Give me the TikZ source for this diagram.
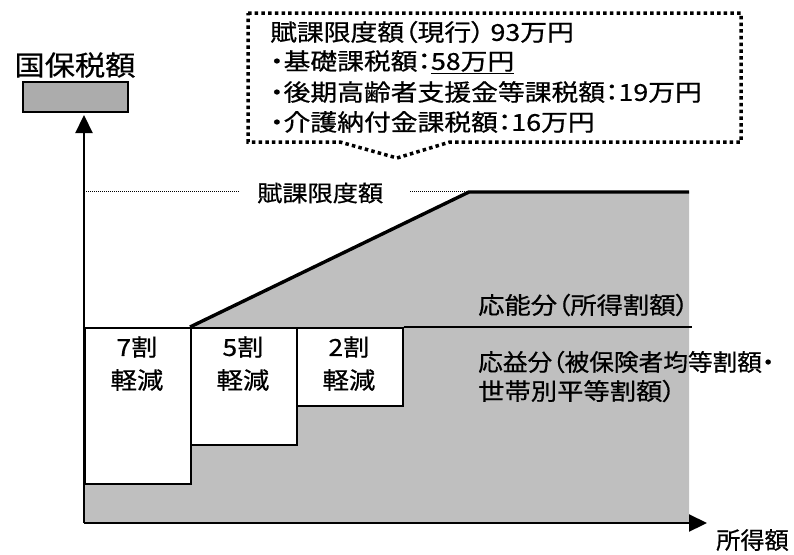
\documentclass[tikz,border=0pt]{standalone}
\usepackage{fontspec}
\setmainfont{Noto Sans CJK JP}[RawFeature=+palt, FakeBold=0.6]
\usepackage{graphicx}
\usetikzlibrary{arrows.meta}
\definecolor{chartgray}{RGB}{191,191,191}
\definecolor{boxgray}{RGB}{172,172,172}
\newcommand{\sxa}[1]{\scalebox{1.12}[1]{#1}}
\newcommand{\sxb}[1]{\scalebox{1.15}[1]{#1}}
\begin{document}
\begin{tikzpicture}[x=1pt,y=-1pt,
  lbl/.style={inner sep=0pt, font=\fontsize{23.5}{27}\selectfont},
  cal/.style={inner sep=0pt, anchor=west, font=\fontsize{23.3}{27}\selectfont},
  redbox/.style={draw=black, line width=1.6pt, fill=white},
  axis/.style={line width=2.2pt, -{Triangle[length=18pt,width=17pt]}},
  thinline/.style={line width=1.6pt},
  dotline/.style={line width=1pt, dash pattern=on 1pt off 1pt},
  calloutdots/.style={line width=3.5pt, dash pattern=on 3.5pt off 3.2pt}]
\useasboundingbox (0,0) rectangle (794,554);
% coordinates
\coordinate (O) at (84,523);
\coordinate (ytop) at (84,115);
\coordinate (xend) at (707,523);
\coordinate (s0) at (190,327);
\coordinate (s1) at (469,192);
\coordinate (s2) at (689,192);
\coordinate (hl) at (692,327);
% gray area
\fill[chartgray] (84,523) -- (84,483) -- (190,483) -- (190,444) -- (296,444) -- (296,405)
  -- (402,405) -- (402,327) -- (190,327) -- (469,192) -- (689,192) -- (689,523) -- cycle;
% reduction boxes
\node[redbox, minimum width=106pt, minimum height=156pt, anchor=north west, inner sep=0pt] (b7) at (84,327) {};
\node[redbox, minimum width=106pt, minimum height=117pt, anchor=north west, inner sep=0pt] (b5) at (190,327) {};
\node[redbox, minimum width=106pt, minimum height=78pt, anchor=north west, inner sep=0pt] (b2) at (296,327) {};
\node[lbl] (t7a) at (137,347) {\sxa{7割}};
\node[lbl] (t7b) at (137,380) {\sxa{軽減}};
\node[lbl] (t5a) at (243,347) {\sxa{5割}};
\node[lbl] (t5b) at (243,380) {\sxa{軽減}};
\node[lbl] (t2a) at (349,347) {\sxa{2割}};
\node[lbl] (t2b) at (349,380) {\sxa{軽減}};
% horizontal line and slope
\draw[thinline] (b2.north east) -- (hl);
\draw[line width=3.4pt] (s0) -- (s1) -- (s2);
% axes
\draw[axis] (O) -- (ytop);
\draw[axis] (O) -- (xend);
% y label
\node[inner sep=0pt, font=\fontsize{27.5}{30}\selectfont] (ylab) at (75,65) {\scalebox{1.1}[1]{国保税額}};
\node[draw=black, line width=1.6pt, fill=boxgray, minimum width=105pt, minimum height=30pt, inner sep=0pt] (gbox) at (75.5,97) {};
% limit label
\node[lbl, anchor=west, font=\fontsize{22.5}{26}\selectfont] (lim) at (257,193) {\sxa{賦課限度額}};
\coordinate (ya) at (86,191);
\draw[dotline] (ya) -- ([xshift=-17pt]lim.west |- ya);
\draw[dotline] ([xshift=27pt]lim.east |- ya) -- (467,191);
% region labels
\node[lbl, anchor=west] (onou) at (478,305) {\sxa{応能分（所得割額）}};
\node[lbl, anchor=west] (oeki1) at (478,362) {\scalebox{1.05}[1]{応益分（被保険者均等割額・}};
\node[lbl, anchor=west] (oeki2) at (478,391) {\sxa{世帯別平等割額）}};
\node[lbl, anchor=west] (xlab) at (716,540) {\scalebox{1.03}[1]{所得額}};
% callout
\draw[calloutdots] (248,13) -- (741,13) -- (741,142) -- (450,142) -- (397,158) -- (340,142) -- (248,142) -- cycle;
\node[cal] (c1) at (270,32) {\sxb{賦課限度額（現行） 93万円}};
\node[cal] (c2) at (270,62) {\sxb{・基礎課税額：\underline{58万円}}};
\node[cal] (c3) at (270,92) {\sxb{・後期高齢者支援金等課税額：19万円}};
\node[cal] (c4) at (270,122) {\sxb{・介護納付金課税額：16万円}};
\end{tikzpicture}
\end{document}
